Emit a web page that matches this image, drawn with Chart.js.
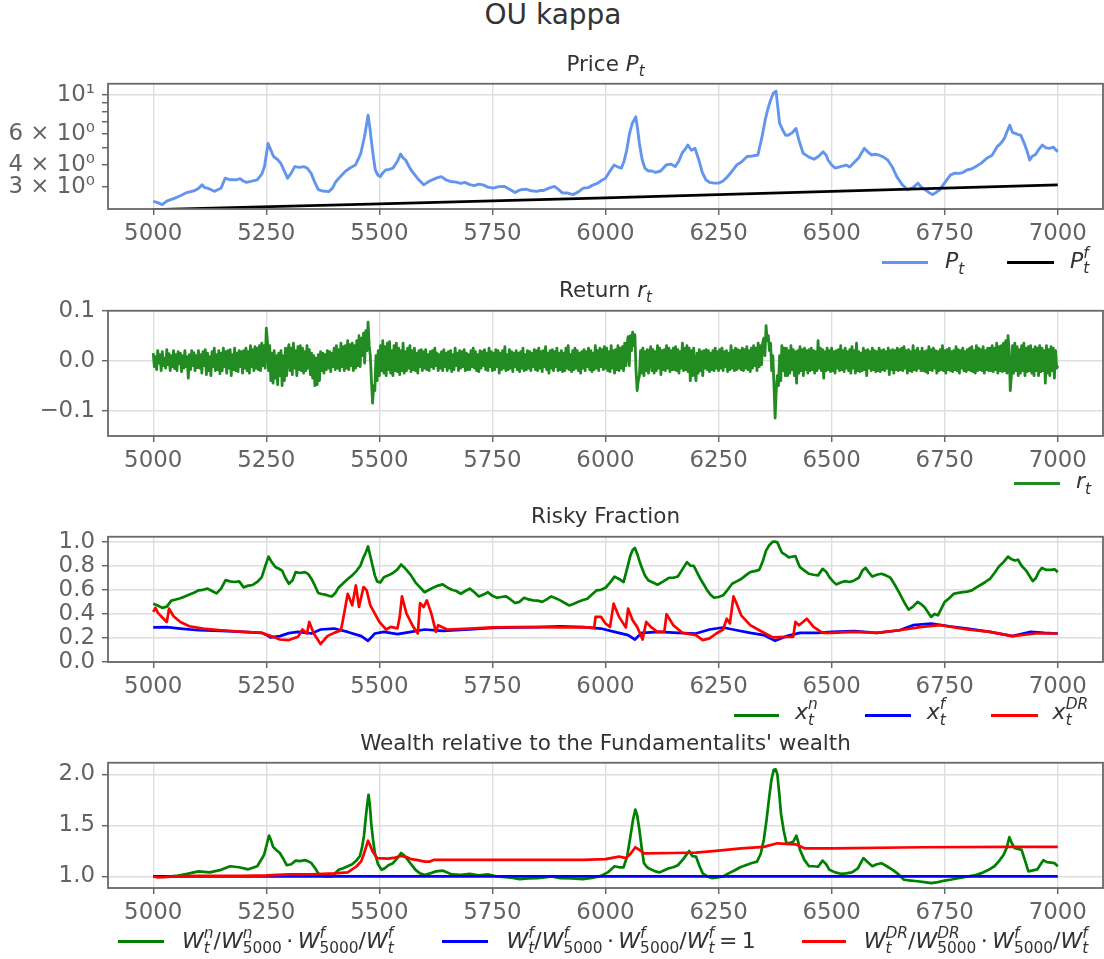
<!DOCTYPE html>
<html><head><meta charset="utf-8">
<script src="https://cdn.jsdelivr.net/npm/chart.js@4.4.1/dist/chart.umd.min.js"></script>
<style>
html,body{margin:0;padding:0;background:#fff;}
body{width:1104px;height:959px;position:relative;overflow:hidden;font-family:"DejaVu Sans",sans-serif;}
canvas{position:absolute;left:0;}
.tx{position:absolute;white-space:nowrap;line-height:2;color:#333;}
.ctr{transform:translateX(-50%);}
.ss{display:inline-block;vertical-align:-0.25em;text-align:left;}
.ss>span{display:block;font-size:70%;line-height:1;}
.sb{font-size:70%;vertical-align:-0.36em;line-height:1;}
.hd{position:absolute;height:3px;}
</style></head><body>
<canvas id="c1" width="1104" height="191" style="top:63px"></canvas>
<canvas id="c2" width="1104" height="191" style="top:290px"></canvas>
<canvas id="c3" width="1104" height="191" style="top:516px"></canvas>
<canvas id="c4" width="1104" height="191" style="top:742px"></canvas>
<script>
// ---------------- DATA ----------------
const xTickVals = [5000,5250,5500,5750,6000,6250,6500,6750,7000];
const xTickLabels = ['5000','5250','5500','5750','6000','6250','6500','6750','7000'];

const priceTickVals = [3,4,5,6,7,8,9,10];
const priceTickLabels = ['3 \u00d7 10\u2070','4 \u00d7 10\u2070','','6 \u00d7 10\u2070','','','','10\u00b9'];
const retTickVals = [-0.1,0,0.1];
const retTickLabels = ['\u22120.1','0.0','0.1'];
const fracTickVals = [0,0.2,0.4,0.6,0.8,1.0];
const fracTickLabels = ['0.0','0.2','0.4','0.6','0.8','1.0'];
const wealthTickVals = [1.0,1.5,2.0];
const wealthTickLabels = ['1.0','1.5','2.0'];

// Price P_t
const priceT = [
5000,5010,5020,5030,5040,5048,5060,5072,5085,5092,
5100,5108,5114,5120,5128,5135,5145,5150,5159,5170,
5183,5192,5199,5206,5218,5230,5240,5246,5254,5258,
5266,5275,5282,5290,5297,5305,5313,5323,5333,5340,
5349,5357,5365,5375,5388,5396,5404,5414,5424,5435,
5447,5453,5459,5467,5471,5475,5479,5483,5487,5491,
5497,5502,5508,5514,5522,5530,5540,5547,5552,5558,
5565,5570,5585,5598,5607,5617,5627,5637,5647,5657,
5670,5680,5689,5700,5710,5720,5729,5740,5752,5764,
5776,5788,5800,5812,5824,5836,5848,5856,5863,5875,
5887,5895,5904,5915,5928,5940,5951,5962,5972,5983,
5992,6000,6010,6019,6027,6035,6041,6047,6053,6059,
6067,6071,6075,6081,6087,6095,6103,6111,6122,6134,
6144,6154,6162,6170,6176,6182,6190,6198,6206,6214,
6222,6230,6240,6250,6260,6270,6280,6290,6300,6313,
6325,6337,6345,6353,6359,6365,6371,6377,6381,6385,
6392,6398,6405,6413,6421,6428,6437,6449,6461,6472,
6481,6488,6492,6500,6508,6520,6532,6540,6548,6560,
6572,6580,6588,6596,6604,6614,6624,6634,6644,6656,
6668,6680,6691,6699,6707,6715,6723,6731,6739,6751,
6763,6773,6783,6791,6799,6809,6819,6831,6843,6855,
6866,6874,6882,6888,6894,6900,6906,6912,6918,6926,
6932,6938,6944,6950,6958,6966,6974,6982,6990,7000];
const priceV = [
2.49,2.45,2.39,2.50,2.56,2.60,2.68,2.78,2.84,2.87,
2.95,3.09,2.98,2.96,2.90,2.84,2.92,2.96,3.37,3.30,
3.30,3.35,3.25,3.19,3.24,3.30,3.55,3.92,5.30,5.00,
4.47,4.30,4.09,3.70,3.37,3.60,3.92,3.88,3.92,3.85,
3.60,3.20,2.90,2.85,2.83,2.95,3.23,3.45,3.67,3.85,
4.00,4.30,4.66,5.78,6.60,7.65,6.50,5.30,4.40,3.75,
3.50,3.44,3.62,3.75,3.78,3.84,4.20,4.62,4.40,4.27,
3.95,3.75,3.35,3.09,3.20,3.30,3.38,3.44,3.30,3.23,
3.20,3.15,3.19,3.10,3.06,3.12,3.09,3.00,2.96,3.02,
3.03,2.92,2.80,2.90,2.92,2.86,2.84,2.87,2.87,2.96,
3.03,2.92,2.79,2.78,2.72,2.82,2.96,2.98,3.08,3.16,
3.28,3.37,3.70,4.00,3.90,3.84,4.20,4.86,6.00,6.87,
7.49,6.40,5.30,4.30,3.84,3.70,3.70,3.63,3.70,4.00,
4.05,3.92,4.20,4.71,4.90,5.19,4.85,4.97,4.30,3.63,
3.30,3.19,3.16,3.16,3.25,3.44,3.70,4.00,4.15,4.47,
4.50,4.56,5.60,7.17,8.30,9.30,10.2,10.48,8.50,6.87,
6.30,5.90,5.91,6.10,6.44,5.50,4.66,4.45,4.31,4.50,
4.76,4.55,4.27,4.00,3.84,3.92,4.00,3.90,4.09,4.40,
4.97,4.75,4.56,4.60,4.56,4.45,4.27,3.90,3.44,3.10,
2.90,2.98,3.16,2.98,2.90,2.80,2.72,2.80,2.90,3.20,
3.52,3.60,3.59,3.64,3.75,3.80,3.92,4.10,4.37,4.55,
5.08,5.30,5.66,6.20,6.72,6.10,6.04,5.95,5.90,5.30,
4.80,4.27,4.50,4.56,4.90,5.19,5.00,4.97,5.05,4.76];

// Fundamental price P_t^f
const fundT = [5000,5500,6000,6500,7000];
const fundV = [2.24,2.41,2.61,2.84,3.09];

// Return r_t, one value every 2.5 steps from 5000 to 7000 (each row = 50 steps)
const retStart = 5000, retStep = 2.5;
const retV = [
.015,-.012,.008,-.018,.02,-.005,.012,-.02,.018,-.01,.005,-.015,.022,-.008,.014,-.02,.01,-.012,.02,-.016,
.012,-.02,.018,-.006,.015,-.022,.01,-.015,.02,-.012,.008,-.035,.012,-.018,.02,-.01,.016,-.02,.01,-.014,
.02,-.015,.012,-.025,.018,-.01,.022,-.028,.015,-.02,.008,-.03,.018,-.012,.025,-.02,.012,-.018,.02,-.026,
.015,-.02,.025,-.012,.018,-.025,.02,-.015,.022,-.03,.012,-.018,.025,-.02,.015,-.022,.02,-.012,.018,-.025,
.02,-.015,.025,-.02,.018,-.025,.03,-.012,.022,-.02,.028,-.015,.025,-.018,.03,-.02,.035,-.01,.03,-.015,
.065,.04,-.02,.03,-.04,.015,-.045,.02,-.035,.01,-.048,.015,-.03,.02,-.05,.01,-.04,.025,-.03,.018,
.032,-.02,.025,-.028,.035,-.015,.02,-.03,.028,-.018,.03,-.02,.025,-.025,.018,-.02,.03,-.015,.022,-.028,
.015,-.035,.01,-.05,.005,-.048,.012,-.04,.018,-.02,.015,-.025,.012,-.018,.02,-.015,.018,-.022,.015,-.012,
.025,-.018,.03,-.015,.022,-.02,.035,-.012,.028,-.02,.03,-.015,.04,-.018,.032,-.01,.035,-.02,.03,-.015,
.04,-.01,.05,-.012,.045,.01,.055,-.005,.06,.02,.077,.03,.01,-.04,-.085,-.05,-.06,.01,-.04,.02,
-.03,.03,-.02,.04,-.025,.028,-.03,.035,-.018,.038,-.025,.02,-.03,.03,-.02,.035,-.022,.025,-.028,.02,
-.02,.035,-.025,.018,-.02,.025,-.015,.03,-.022,.02,-.018,.025,-.02,.015,-.025,.02,-.012,.022,-.02,.018,
-.015,.022,-.018,.012,-.02,.018,-.012,.02,-.016,.025,-.01,.015,-.02,.012,-.015,.018,-.02,.022,-.012,.015,
-.02,.018,-.015,.02,-.022,.012,-.018,.025,-.01,.015,-.02,.02,-.015,.018,-.012,.022,-.02,.015,-.018,.012,
-.018,.02,-.012,.025,-.015,.018,-.02,.012,-.022,.02,-.015,.018,-.01,.022,-.018,.015,-.02,.025,-.012,.018,
-.02,.015,-.018,.022,-.012,.02,-.025,.015,-.018,.02,-.015,.028,-.02,.012,-.018,.022,-.015,.018,-.022,.015,
-.012,.02,-.018,.015,-.022,.018,-.015,.025,-.02,.012,-.018,.02,-.015,.018,-.02,.015,-.012,.022,-.018,.02,
-.02,.025,-.015,.018,-.022,.02,-.012,.028,-.018,.015,-.025,.02,-.015,.022,-.02,.018,-.012,.025,-.02,.015,
-.018,.02,-.022,.015,-.02,.025,-.015,.03,-.018,.012,-.022,.02,-.018,.025,-.015,.02,-.02,.015,-.025,.018,
-.015,.022,-.02,.018,-.012,.025,-.018,.02,-.022,.015,-.018,.03,-.015,.02,-.02,.025,-.012,.022,-.018,.028,
-.015,.025,-.02,.018,-.022,.03,-.015,.02,-.025,.022,-.018,.03,-.02,.025,-.015,.028,-.02,.035,-.01,.03,
.048,-.01,.05,.02,.057,.03,.052,-.02,-.06,-.04,-.03,.02,-.025,.025,-.03,.018,-.02,.022,-.025,.015,
.028,-.02,.022,-.025,.018,-.02,.03,-.015,.025,-.028,.02,-.018,.022,-.02,.03,-.015,.025,-.022,.02,-.018,
.025,-.018,.028,-.02,.022,-.025,.018,-.015,.035,-.02,.025,-.018,.03,-.022,.025,-.04,.02,-.03,.025,-.02,
-.04,.015,-.025,.022,-.02,.018,-.03,.02,-.015,.022,-.018,.02,-.022,.015,-.018,.02,-.02,.025,-.015,.018,
-.02,.022,-.015,.025,-.02,.018,-.012,.02,-.022,.015,-.018,.03,-.015,.02,-.02,.025,-.018,.022,-.015,.02,
-.018,.025,-.02,.022,-.015,.028,-.018,.02,-.022,.025,-.015,.03,-.01,.025,-.02,.035,-.012,.03,-.008,.035,
.045,.01,.07,.04,.05,.02,.035,-.02,.01,-.05,-.115,-.06,-.03,-.05,.01,-.04,.03,-.02,.025,-.03,
.025,-.03,.02,-.025,.03,-.018,.022,-.03,.018,-.045,.02,-.025,.028,-.02,.022,-.03,.025,-.018,.02,-.025,
.022,-.02,.025,-.018,.02,-.025,.018,-.02,.04,-.015,.025,-.02,.022,-.035,.018,-.02,.025,-.018,.02,-.022,
.025,-.02,.018,-.025,.02,-.015,.022,-.02,.03,-.018,.02,-.022,.025,-.015,.018,-.02,.022,-.025,.028,-.015,
.02,-.025,.035,-.02,.018,-.022,.015,-.02,.025,-.018,.02,-.03,.022,-.015,.018,-.02,.025,-.018,.02,-.022,
.018,-.02,.025,-.022,.02,-.018,.022,-.02,.018,-.015,.025,-.028,.02,-.018,.022,-.025,.02,-.018,.025,-.02,
.022,-.018,.025,-.02,.028,-.015,.02,-.025,.022,-.02,.018,-.022,.03,-.018,.02,-.02,.025,-.015,.018,-.02,
.025,-.02,.018,-.022,.02,-.025,.028,-.018,.022,-.02,.025,-.015,.02,-.025,.018,-.02,.022,-.018,.03,-.02,
.02,-.025,.022,-.018,.025,-.02,.018,-.022,.02,-.018,.028,-.02,.022,-.025,.02,-.015,.025,-.02,.018,-.022,
.022,-.018,.025,-.02,.028,-.022,.02,-.025,.03,-.02,.025,-.018,.022,-.02,.028,-.025,.02,-.018,.025,-.02,
.025,-.02,.03,-.022,.025,-.018,.035,-.025,.028,-.02,.03,-.022,.035,-.02,.04,-.025,.05,.02,-.06,-.03,
.03,-.025,.035,-.02,.028,-.03,.022,-.025,.03,-.02,.035,-.03,.025,-.022,.028,-.02,.03,-.025,.022,-.03,
.028,-.02,.025,-.03,.03,-.022,.025,-.02,.02,-.045,.03,-.025,.022,-.03,.028,-.02,.025,-.035,.02,-.015,
-.01];

// Risky fraction x_t^n
const xnT = [
5000,5010,5020,5030,5040,5050,5060,5070,5080,5090,
5100,5110,5120,5130,5140,5150,5160,5170,5180,5190,
5200,5210,5220,5230,5240,5248,5255,5262,5270,5278,
5285,5292,5300,5308,5315,5325,5335,5343,5350,5358,
5365,5372,5380,5388,5395,5403,5410,5420,5430,5440,
5450,5458,5465,5470,5475,5480,5485,5490,5495,5502,
5510,5520,5530,5540,5548,5554,5560,5570,5580,5590,
5600,5610,5620,5630,5640,5650,5660,5670,5680,5690,
5700,5710,5720,5730,5740,5750,5760,5770,5780,5790,
5800,5810,5820,5830,5840,5850,5860,5870,5880,5890,
5900,5910,5920,5930,5940,5950,5960,5970,5980,5990,
6000,6010,6020,6030,6040,6048,6055,6060,6065,6070,
6075,6080,6087,6095,6105,6115,6128,6140,6150,6160,
6170,6180,6188,6195,6203,6210,6218,6225,6232,6240,
6250,6260,6270,6280,6290,6300,6310,6320,6330,6340,
6348,6355,6362,6370,6375,6380,6385,6390,6398,6405,
6412,6420,6425,6430,6440,6450,6460,6470,6480,6488,
6495,6503,6510,6520,6530,6540,6550,6560,6568,6575,
6583,6590,6600,6610,6620,6630,6640,6650,6660,6670,
6680,6690,6698,6705,6712,6720,6728,6735,6742,6750,
6760,6770,6780,6790,6800,6810,6820,6830,6840,6850,
6860,6870,6880,6890,6897,6905,6912,6920,6930,6940,
6945,6952,6958,6965,6975,6985,6993,7000];
const xnV = [
0.485,0.47,0.45,0.46,0.51,0.52,0.53,0.545,0.56,0.575,
0.595,0.60,0.61,0.59,0.57,0.61,0.68,0.67,0.665,0.67,
0.62,0.635,0.64,0.665,0.705,0.80,0.876,0.83,0.79,0.775,
0.76,0.70,0.65,0.68,0.747,0.74,0.747,0.73,0.69,0.63,
0.573,0.565,0.56,0.55,0.545,0.575,0.62,0.655,0.69,0.72,
0.76,0.80,0.87,0.91,0.96,0.88,0.80,0.72,0.67,0.66,
0.705,0.72,0.74,0.77,0.81,0.79,0.766,0.72,0.66,0.62,
0.58,0.60,0.62,0.635,0.645,0.62,0.60,0.59,0.567,0.59,
0.61,0.58,0.545,0.56,0.58,0.55,0.534,0.54,0.545,0.52,
0.49,0.50,0.534,0.52,0.512,0.51,0.50,0.52,0.545,0.53,
0.512,0.49,0.47,0.485,0.50,0.515,0.526,0.56,0.595,0.60,
0.617,0.66,0.71,0.69,0.664,0.78,0.884,0.93,0.948,0.90,
0.84,0.788,0.72,0.678,0.66,0.642,0.67,0.70,0.70,0.71,
0.77,0.83,0.80,0.80,0.74,0.69,0.64,0.595,0.56,0.534,
0.54,0.554,0.60,0.65,0.67,0.69,0.72,0.747,0.755,0.766,
0.84,0.926,0.97,1.0,1.0,0.994,0.95,0.91,0.89,0.87,
0.875,0.88,0.83,0.788,0.76,0.733,0.725,0.72,0.774,0.75,
0.705,0.67,0.645,0.66,0.672,0.665,0.678,0.70,0.76,0.782,
0.74,0.71,0.725,0.733,0.72,0.70,0.64,0.573,0.50,0.435,
0.46,0.50,0.48,0.457,0.42,0.375,0.40,0.388,0.44,0.50,
0.53,0.567,0.575,0.58,0.585,0.595,0.62,0.642,0.665,0.69,
0.74,0.793,0.83,0.876,0.855,0.843,0.85,0.80,0.76,0.70,
0.672,0.70,0.75,0.782,0.765,0.766,0.77,0.747];

// Risky fraction x_t^f
const xfT = [5000,5030,5060,5100,5150,5200,5240,5250,5260,5280,
5300,5320,5350,5370,5400,5430,5460,5475,5490,5510,
5540,5570,5600,5640,5700,5750,5800,5850,5900,5950,
5990,6020,6050,6065,6080,6120,6160,6200,6230,6260,
6290,6320,6350,6375,6400,6430,6470,6500,6550,6600,
6650,6680,6720,6760,6800,6850,6900,6940,6970,7000];
const xfV = [0.287,0.29,0.278,0.264,0.259,0.25,0.242,0.225,0.204,0.215,
0.24,0.25,0.237,0.27,0.278,0.25,0.215,0.176,0.237,0.25,
0.231,0.25,0.27,0.259,0.27,0.284,0.287,0.29,0.297,0.29,
0.278,0.25,0.223,0.187,0.242,0.25,0.242,0.237,0.27,0.287,
0.264,0.242,0.223,0.176,0.215,0.242,0.242,0.25,0.256,0.242,
0.264,0.306,0.32,0.297,0.278,0.25,0.215,0.25,0.242,0.237];

// Risky fraction x_t^DR
const xdT = [5000,5005,5010,5020,5030,5035,5045,5060,5080,5110,
5150,5200,5240,5265,5280,5300,5320,5330,5340,5345,
5355,5370,5385,5400,5415,5420,5430,5440,5448,5455,
5465,5472,5480,5500,5515,5525,5540,5545,5550,5560,
5575,5585,5590,5598,5605,5615,5625,5630,5650,5700,
5750,5800,5850,5900,5950,5975,5978,5990,6000,6010,
6018,6030,6045,6050,6060,6070,6082,6090,6100,6115,
6130,6135,6150,6170,6200,6215,6230,6245,6260,6268,
6275,6283,6290,6300,6320,6340,6370,6400,6415,6420,
6428,6445,6460,6480,6500,6550,6600,6650,6700,6740,
6800,6850,6900,6950,7000];
const xdV = [0.416,0.45,0.41,0.37,0.333,0.443,0.38,0.333,0.297,0.278,
0.264,0.25,0.242,0.209,0.187,0.182,0.209,0.27,0.237,0.333,
0.237,0.149,0.215,0.242,0.264,0.36,0.567,0.471,0.636,0.457,
0.623,0.595,0.471,0.333,0.27,0.292,0.28,0.375,0.545,0.402,
0.292,0.237,0.49,0.457,0.512,0.402,0.25,0.306,0.27,0.278,
0.287,0.29,0.29,0.287,0.29,0.284,0.375,0.375,0.32,0.292,
0.485,0.375,0.287,0.443,0.347,0.292,0.187,0.333,0.292,0.25,
0.25,0.397,0.306,0.242,0.223,0.182,0.196,0.237,0.27,0.36,
0.32,0.545,0.485,0.388,0.306,0.264,0.204,0.209,0.209,0.333,
0.306,0.36,0.292,0.242,0.242,0.25,0.242,0.264,0.292,0.306,
0.27,0.25,0.215,0.237,0.237];

// Wealth: noise traders relative to fundamentalists
const wnT = [
5000,5025,5050,5075,5100,5125,5150,5170,5190,5210,
5230,5245,5252,5256,5260,5265,5272,5280,5288,5295,
5305,5315,5325,5335,5342,5350,5358,5365,5372,5380,
5395,5410,5420,5430,5440,5450,5457,5462,5466,5470,
5473,5476,5479,5482,5486,5490,5497,5505,5512,5520,
5530,5540,5548,5554,5560,5570,5580,5590,5600,5612,
5625,5640,5650,5660,5680,5700,5720,5740,5760,5780,
5795,5810,5830,5850,5865,5880,5900,5925,5950,5970,
5990,6005,6020,6030,6040,6048,6055,6061,6066,6070,
6075,6080,6085,6092,6100,6110,6120,6130,6140,6150,
6160,6172,6185,6192,6200,6208,6215,6225,6235,6248,
6260,6272,6285,6298,6310,6322,6335,6343,6350,6356,
6362,6367,6372,6376,6380,6384,6388,6394,6400,6408,
6415,6422,6426,6430,6440,6450,6460,6470,6480,6488,
6495,6508,6520,6532,6545,6558,6570,6580,6590,6600,
6610,6622,6635,6648,6660,6675,6690,6705,6720,6735,
6750,6765,6780,6790,6800,6815,6830,6845,6860,6870,
6880,6887,6893,6899,6905,6912,6920,6928,6935,6945,
6955,6962,6968,6976,6985,6993,7000];
const wnV = [
1.0,0.995,1.005,1.025,1.05,1.04,1.065,1.10,1.09,1.07,
1.10,1.21,1.33,1.40,1.36,1.29,1.26,1.23,1.17,1.11,
1.12,1.155,1.15,1.16,1.15,1.13,1.08,1.03,1.01,1.0,
1.0,1.065,1.08,1.10,1.12,1.16,1.20,1.29,1.40,1.58,
1.70,1.80,1.70,1.52,1.36,1.23,1.12,1.065,1.08,1.11,
1.13,1.18,1.23,1.21,1.18,1.12,1.065,1.03,1.015,1.03,
1.05,1.058,1.04,1.02,1.015,1.025,1.01,1.02,1.0,0.993,
0.985,0.974,0.98,0.984,0.99,1.0,0.984,0.98,0.974,0.985,
1.006,1.04,1.10,1.09,1.09,1.20,1.39,1.56,1.655,1.60,
1.455,1.28,1.13,1.09,1.07,1.05,1.04,1.06,1.08,1.09,
1.11,1.17,1.25,1.20,1.195,1.10,1.03,1.0,0.984,0.99,
1.0,1.03,1.058,1.09,1.11,1.13,1.145,1.22,1.36,1.55,
1.78,1.95,2.045,2.05,2.0,1.82,1.617,1.45,1.325,1.33,
1.34,1.40,1.34,1.26,1.16,1.10,1.10,1.095,1.155,1.12,
1.065,1.04,1.026,1.03,1.04,1.08,1.18,1.14,1.10,1.12,
1.13,1.10,1.065,1.02,0.968,0.96,0.953,0.945,0.935,0.945,
0.96,0.97,0.984,0.99,1.0,1.01,1.03,1.06,1.10,1.15,
1.21,1.28,1.385,1.32,1.276,1.27,1.26,1.15,1.05,1.06,
1.07,1.12,1.16,1.14,1.135,1.13,1.10];

// Wealth: fundamentalists (constant 1)
const wfT = [5000,7000];
const wfV = [1.0,1.0];

// Wealth: DR traders relative to fundamentalists
const wdT = [5000,5010,5050,5100,5200,5250,5300,5350,5400,5430,
5450,5460,5465,5470,5475,5480,5485,5495,5520,5535,
5548,5560,5570,5585,5600,5610,5620,5650,5750,5850,
5950,6000,6030,6045,6055,6066,6075,6085,6150,6200,
6250,6300,6350,6380,6420,6440,6500,6700,6900,7000];
const wdV = [1.0,0.99,1.0,1.006,1.006,1.01,1.02,1.02,1.03,1.04,
1.10,1.15,1.21,1.28,1.35,1.30,1.245,1.18,1.175,1.185,
1.20,1.19,1.17,1.16,1.146,1.145,1.162,1.162,1.162,1.162,
1.162,1.17,1.195,1.18,1.22,1.286,1.26,1.227,1.23,1.234,
1.253,1.276,1.29,1.325,1.315,1.276,1.276,1.286,1.29,1.29];

// ---------------- HELPERS ----------------
function zip(T, V){ const n=Math.min(T.length,V.length); const o=[]; for(let i=0;i<n;i++) o.push({x:T[i],y:V[i]}); return o; }
const retT = retV.map((_,i)=>retStart+i*retStep);

const TICK_COLOR = '#636363', GRID_COLOR = '#dedede', SPINE_COLOR = '#686868';
const tickFont = {family:'DejaVu Sans', size:22.9};
Chart.defaults.font.family = 'DejaVu Sans';

const boxPlugin = {id:'box', afterDatasetsDraw(chart){
  const {ctx, chartArea:a} = chart;
  ctx.save(); ctx.strokeStyle = SPINE_COLOR; ctx.lineWidth = 1.8;
  ctx.strokeRect(a.left, a.top, a.right-a.left, a.bottom-a.top); ctx.restore();
}};

function xScale(){ return {
  type:'linear', min:4900, max:7100,
  afterBuildTicks: s => { s.ticks = xTickVals.map(v=>({value:v})); },
  afterFit: s => { s.height = 45; },
  ticks:{autoSkip:false, maxRotation:0, minRotation:0, color:TICK_COLOR, font:tickFont, padding:5,
    callback:v=>{const i=xTickVals.indexOf(v); return i<0?'':xTickLabels[i];}},
  grid:{color:GRID_COLOR, lineWidth:1.4, tickLength:6, tickColor:SPINE_COLOR, tickWidth:1.5},
  border:{display:false}
};}
function yScale(type, min, max, vals, labels, gridOnly){ return {
  type, min, max,
  afterBuildTicks: s => { s.ticks = vals.map(v=>({value:v})); },
  afterFit: s => { s.width = 108; },
  ticks:{autoSkip:false, color:TICK_COLOR, font:tickFont, padding:7,
    callback:v=>{let i=vals.indexOf(v); if(i<0){i=vals.findIndex(q=>Math.abs(q-v)<1e-9);} return i<0?'':labels[i];}},
  grid:{color: gridOnly ? (c=> (c.tick && gridOnly.includes(c.tick.value)) ? GRID_COLOR : 'rgba(0,0,0,0)') : GRID_COLOR,
        lineWidth:1.4, tickLength:6, tickColor:SPINE_COLOR, tickWidth:1.5},
  border:{display:false}
};}
function ds(data, color, order, w){ return {data, borderColor:color, backgroundColor:color, borderWidth:w||2.7,
  pointRadius:0, tension:0, borderJoinStyle:'round', order, fill:false}; }
function make(id, datasets, y){
  return new Chart(document.getElementById(id), {
    type:'line', data:{datasets},
    options:{responsive:false, animation:false, devicePixelRatio:1,
      layout:{padding:{top:20, right:1, left:0, bottom:0}},
      plugins:{legend:{display:false}, tooltip:{enabled:false}, title:{display:false}},
      scales:{x:xScale(), y}},
    plugins:[boxPlugin]
  });
}

make('c1', [ds(zip(priceT,priceV),'#6495ED',2,2.9), ds(zip(fundT,fundV),'#000000',1,2.7)],
  yScale('logarithmic', 2.256, 11.53, priceTickVals, priceTickLabels, [10]));
make('c2', [ds(zip(retT,retV),'#228B22',1,2.8)],
  yScale('linear', -0.151, 0.1, retTickVals, retTickLabels));
make('c3', [ds(zip(xnT,xnV),'#008000',3), ds(zip(xfT,xfV),'#0000FF',2), ds(zip(xdT,xdV),'#FF0000',1)],
  yScale('linear', 0, 1.041, fracTickVals, fracTickLabels));
make('c4', [ds(zip(wnT,wnV),'#008000',3), ds(zip(wfT,wfV),'#0000FF',2), ds(zip(wdT,wdV),'#FF0000',1)],
  yScale('linear', 0.887, 2.114, wealthTickVals, wealthTickLabels));

// ---------------- TEXT (titles, legends) ----------------
const I = s => `<i>${s}</i>`;
const sb = s => `<span class="sb">${s}</span>`;
const ss = (sup, sub) => `<span class="ss"><span>${sup}</span><span>${sub}</span></span>`;
const DOT = '\u2009\u00b7\u2009';

function addText(html, x, baseline, fs, center, color){
  const d = document.createElement('div');
  d.className = 'tx' + (center ? ' ctr' : '');
  d.style.left = x + 'px';
  d.style.top = (baseline - 1.346*fs) + 'px';
  d.style.fontSize = fs + 'px';
  if (color) d.style.color = color;
  d.innerHTML = html;
  document.body.appendChild(d);
}
function addHandle(x1, x2, y, color){
  const d = document.createElement('div');
  d.className = 'hd';
  d.style.left = x1 + 'px'; d.style.width = (x2-x1) + 'px';
  d.style.top = (y-1.5) + 'px'; d.style.background = color;
  document.body.appendChild(d);
}

addText('OU kappa', 553, 25, 28, true);
const TFS = 21.5;
addText('Price ' + I('P') + sb(I('t')), 605.5, 70.7, TFS, true);
addText('Return ' + I('r') + sb(I('t')), 605.5, 297, TFS, true);
addText('Risky Fraction', 605.5, 523.3, TFS, true);
addText("Wealth relative to the Fundamentalits' wealth", 605.5, 750, TFS, true);

const LFS = 22;
// panel 1 legend
addHandle(881.7, 928.3, 262.3, '#6495ED'); addText(I('P') + sb(I('t')), 945, 268.3, LFS);
addHandle(1006.7, 1054, 262.3, '#000000'); addText(I('P') + ss(I('f'), I('t')), 1070, 268.3, LFS);
// panel 2 legend
addHandle(1014, 1060, 483.3, '#228B22'); addText(I('r') + sb(I('t')), 1076, 488.3, LFS);
// panel 3 legend
addHandle(733.5, 779.2, 715, '#008000'); addText(I('x') + ss(I('n'), I('t')), 795, 720, LFS);
addHandle(864.5, 910.5, 715, '#0000FF'); addText(I('x') + ss(I('f'), I('t')), 926.7, 720, LFS);
addHandle(991.4, 1038.2, 715, '#FF0000'); addText(I('x') + ss(I('DR'), I('t')), 1052.6, 720, LFS);
// panel 4 legend
addHandle(117.9, 164.3, 941, '#008000');
addText(I('W') + ss(I('n'), I('t')) + '/' + I('W') + ss(I('n'), '5000') + DOT + I('W') + ss(I('f'), '5000') + '/' + I('W') + ss(I('f'), I('t')), 182, 948.3, LFS);
addHandle(442.4, 488.4, 941, '#0000FF');
addText(I('W') + ss(I('f'), I('t')) + '/' + I('W') + ss(I('f'), '5000') + DOT + I('W') + ss(I('f'), '5000') + '/' + I('W') + ss(I('f'), I('t')) + '\u2009=\u20091', 506.4, 948.3, LFS);
addHandle(801.8, 846.5, 941, '#FF0000');
addText(I('W') + ss(I('DR'), I('t')) + '/' + I('W') + ss(I('DR'), '5000') + DOT + I('W') + ss(I('f'), '5000') + '/' + I('W') + ss(I('f'), I('t')), 863.7, 948.3, LFS);
</script>
</body></html>
